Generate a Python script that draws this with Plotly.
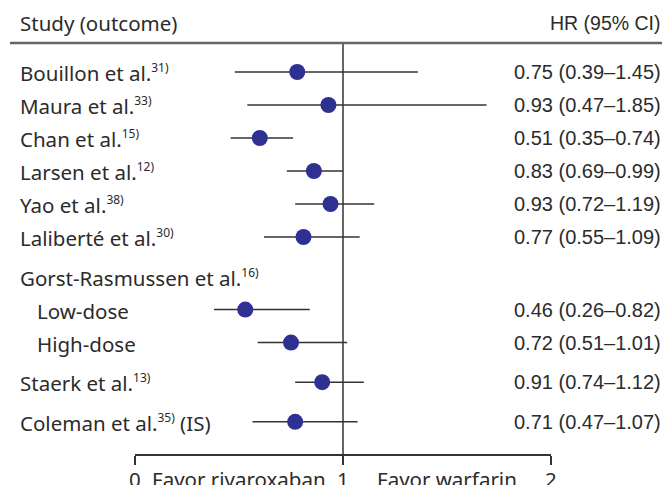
import plotly.graph_objects as go

# ---------------- data ----------------
studies = ["Bouillon et al.", "Maura et al.", "Chan et al.", "Larsen et al.", "Yao et al.",
           "Laliberté et al.", "Gorst-Rasmussen et al.", "Low-dose", "High-dose",
           "Staerk et al.", "Coleman et al."]
refs = ["31)", "33)", "15)", "12)", "38)", "30)", "16)", "", "", "13)", "35)"]
suffixes = ["", "", "", "", "", "", "", "", "", "", " (IS)"]
hr_text = ["0.75 (0.39–1.45)", "0.93 (0.47–1.85)", "0.51 (0.35–0.74)", "0.83 (0.69–0.99)",
           "0.93 (0.72–1.19)", "0.77 (0.55–1.09)", "", "0.46 (0.26–0.82)",
           "0.72 (0.51–1.01)", "0.91 (0.74–1.12)", "0.71 (0.47–1.07)"]
# values as drawn in the figure
hr_point = [0.78, 0.93, 0.60, 0.86, 0.94, 0.81, None, 0.53, 0.75, 0.90, 0.77]
ci_low = [0.48, 0.54, 0.46, 0.73, 0.77, 0.62, None, 0.38, 0.59, 0.77, 0.565]
ci_high = [1.36, 1.69, 0.76, 1.00, 1.15, 1.08, None, 0.84, 1.02, 1.10, 1.07]
x_ticks = [0, 1, 2]
favor_labels = ["Favor rivaroxaban", "Favor warfarin"]

# ---------------- layout helpers ----------------
row_gap = [0, 1, 1, 1, 1, 1, 1.2, 1, 1, 1.2, 1.2]
indent = [False] * 7 + [True, True] + [False, False]
ypos = []
acc = 0
for g in row_gap:
    acc += g
    ypos.append(acc)

OFF = 8  # page body margin
W, H = 670 - OFF, 485 - OFF
ML, MR, MT, MB = 135 - OFF, 119, 43 - OFF, 31
PW = W - ML - MR
PH = H - MT - MB
ROW0_PX, ROW_PX = 72 - OFF, 33
y_top = (MT - ROW0_PX) / ROW_PX
y_bot = (H - MB - ROW0_PX) / ROW_PX


def px2paper(px):
    return (px - OFF - ML) / PW


LEFT_FONT = "Noto Sans"
RIGHT_FONT = "Liberation Sans, Arial"
TXT = "#2b2b2b"
LS = 20.5

pts_x, pts_y, ep, em = [], [], [], []
for i, v in enumerate(hr_point):
    if v is None:
        continue
    pts_x.append(v)
    pts_y.append(ypos[i])
    ep.append(ci_high[i] - v)
    em.append(v - ci_low[i])

fig = go.Figure()
fig.add_trace(go.Scatter(
    x=pts_x, y=pts_y, mode="markers",
    marker=dict(size=16, color="#2e3192"),
    error_x=dict(type="data", symmetric=False, array=ep, arrayminus=em,
                 width=0, thickness=1.5, color="#333333"),
    cliponaxis=False, hoverinfo="skip", showlegend=False))

ann = []
for i, name in enumerate(studies):
    lab = name
    if refs[i]:
        lab += "<sup><span style='font-size:12px'>" + refs[i] + "</span></sup>"
    lab += suffixes[i]
    ann.append(dict(x=px2paper(35 if indent[i] else 18), xref="paper", y=ypos[i], yref="y",
                    text=lab, showarrow=False, xanchor="left", yanchor="middle", yshift=-1,
                    font=dict(family=LEFT_FONT, size=LS, color=TXT)))
    if hr_text[i]:
        ann.append(dict(x=px2paper(663), xref="paper", y=ypos[i], yref="y",
                        text=hr_text[i], showarrow=False, xanchor="right", yanchor="middle",
                        font=dict(family=RIGHT_FONT, size=20, color=TXT)))

ann.append(dict(x=px2paper(18), xref="paper", y=1 + 20 / PH, yref="paper",
                text="Study (outcome)", showarrow=False, xanchor="left", yanchor="middle",
                font=dict(family=LEFT_FONT, size=LS, color=TXT)))
ann.append(dict(x=px2paper(663), xref="paper", y=1 + 20 / PH, yref="paper",
                text="HR (95% CI)", showarrow=False, xanchor="right", yanchor="middle",
                font=dict(family=RIGHT_FONT, size=19.5, color=TXT)))
BOT_Y = -24.5 / PH
for k, lab in enumerate(favor_labels):
    ann.append(dict(x=k + 0.5, xref="x", y=BOT_Y, yref="paper",
                    text=lab, showarrow=False, xanchor="center", yanchor="middle",
                    font=dict(family=LEFT_FONT, size=LS, color=TXT)))
for t in x_ticks:
    ann.append(dict(x=t, xref="x", y=BOT_Y, yref="paper",
                    text=str(t), showarrow=False, xanchor="center", yanchor="middle",
                    font=dict(family=LEFT_FONT, size=LS, color=TXT)))

shapes = [
    dict(type="line", xref="paper", yref="paper", x0=px2paper(10), x1=px2paper(672),
         y0=1, y1=1, line=dict(color="#666666", width=2.5)),
    dict(type="line", xref="x", yref="paper", x0=1, x1=1, y0=-9 / PH, y1=1,
         line=dict(color="#333333", width=1.5), layer="below"),
]

fig.update_layout(
    width=W, height=H,
    margin=dict(l=ML, r=MR, t=MT, b=MB, pad=0),
    paper_bgcolor="white", plot_bgcolor="white",
    xaxis=dict(range=[0, 2], tickvals=x_ticks, showline=True, linecolor="#333333",
               linewidth=1.5, ticks="outside", ticklen=9, tickwidth=1.5, tickcolor="#333333",
               showticklabels=False, showgrid=False, zeroline=False, automargin=False),
    yaxis=dict(range=[y_bot, y_top], visible=False, showgrid=False, zeroline=False,
               automargin=False),
    annotations=ann, shapes=shapes, showlegend=False,
)

fig.write_html("out.html")
